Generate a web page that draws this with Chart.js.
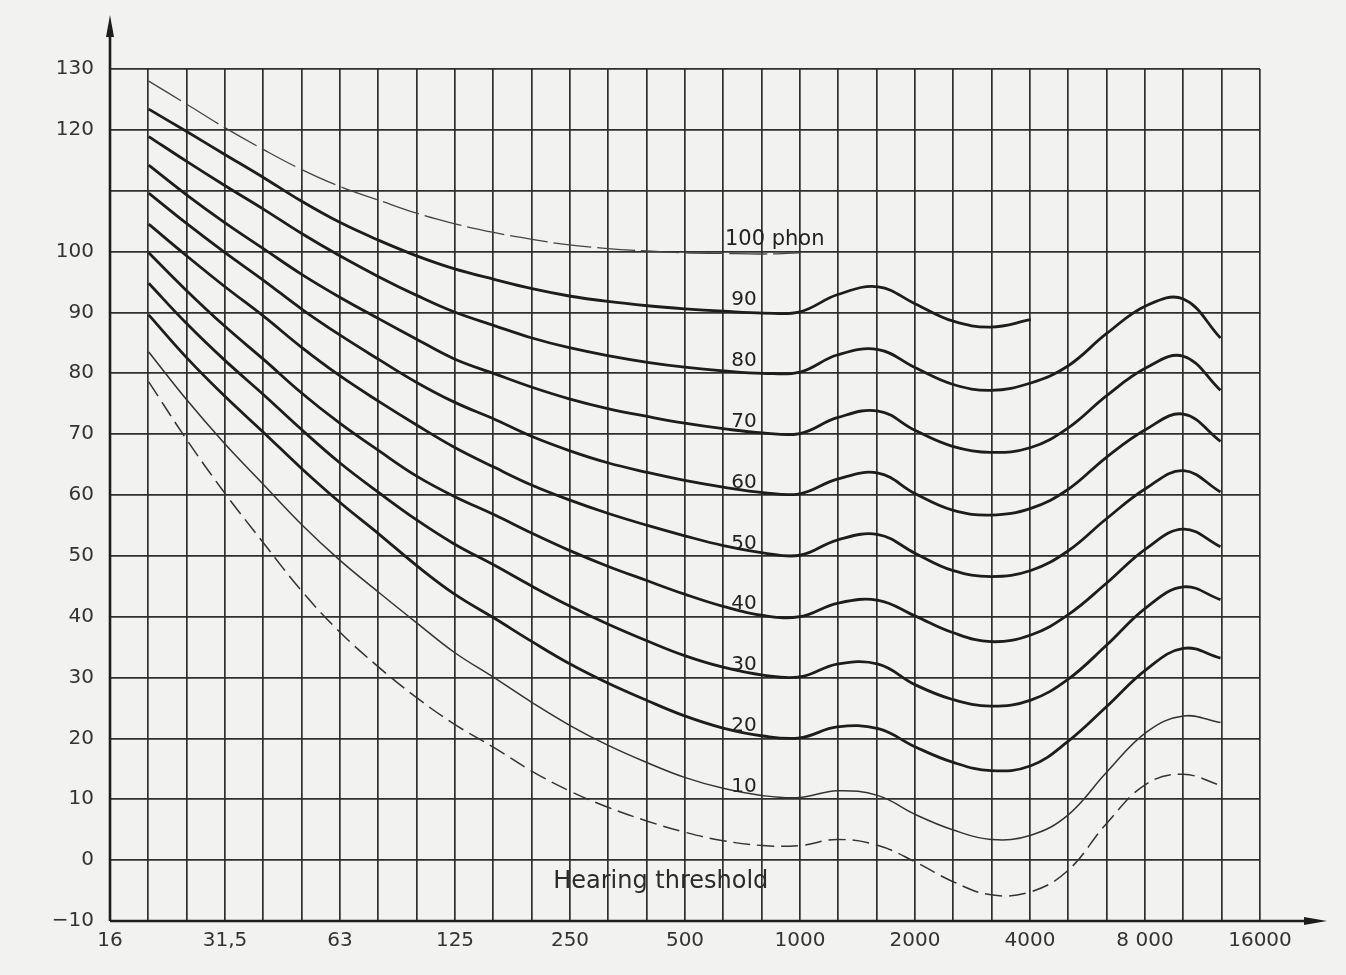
<!DOCTYPE html>
<html>
<head>
<meta charset="utf-8">
<script src="https://cdn.jsdelivr.net/npm/chart.js@4.4.1/dist/chart.umd.min.js"></script>
<style>
  html, body { margin: 0; padding: 0; background: #f2f2f0; }
  #chart { display: block; }
</style>
</head>
<body>
<canvas id="chart" width="1346" height="975"></canvas>
<script>
// third-octave centre frequencies (Hz) where the curves are read
const freqs = [20, 25, 31.5, 40, 50, 63, 80, 100, 125, 160, 200, 250, 315, 400, 500, 630, 800, 1000,
               1250, 1600, 2000, 2500, 3150, 4000, 5000, 6300, 8000, 10000, 12500]

// sound pressure level (dB) of each equal loudness contour
const phon100 = [128, 124.3, 120.4, 116.7, 113.5, 110.7, 108.4, 106.3, 104.6, 103.1, 102, 101.1, 100.5, 100.1, 99.8, 99.7, 99.6, 99.8,
                 null, null, null, null, null, null, null, null, null, null, null]
const phon90 = [123.4, 119.8, 116.0, 112.1, 108.3, 104.8, 101.8, 99.3, 97.2, 95.4, 93.9, 92.7, 91.8, 91.1, 90.6, 90.2, 89.9, 90.1,
                92.9, 94.2, 91.4, 88.6, 87.6, 88.8, null, null, null, null, null]
const phon80 = [118.9, 114.9, 110.9, 106.9, 103, 99.3, 95.8, 92.8, 90.1, 87.8, 85.8, 84.2, 82.9, 81.8, 81, 80.4, 80, 80.2,
                83, 83.9, 80.9, 78.2, 77.2, 78.4, 81.2, 86.5, 91.1, 92.2, 85.8]
const phon70 = [114.2, 109.4, 104.8, 100.4, 96.3, 92.5, 88.9, 85.6, 82.4, 79.9, 77.7, 75.8, 74.2, 72.9, 71.8, 70.9, 70.2, 70.1,
                72.7, 73.8, 70.6, 68, 67, 67.8, 71, 76.3, 80.9, 82.8, 77.2]
const phon60 = [109.6, 104.7, 99.9, 95.2, 90.6, 86.3, 82.2, 78.5, 75.3, 72.4, 69.6, 67.3, 65.3, 63.7, 62.4, 61.3, 60.4, 60.2,
                62.6, 63.6, 60.2, 57.5, 56.7, 57.8, 60.9, 66.2, 70.8, 73.3, 68.8]
const phon50 = [104.5, 99.4, 94.3, 89.3, 84.3, 79.6, 75.3, 71.5, 67.9, 64.5, 61.6, 59.2, 57, 55.0, 53.3, 51.7, 50.5, 50.1,
                52.6, 53.5, 50.4, 47.6, 46.6, 47.6, 50.8, 56.1, 61.1, 64, 60.5]
const phon40 = [99.8, 93.7, 87.8, 82.2, 76.8, 71.8, 67.2, 63.1, 59.8, 56.7, 53.7, 50.9, 48.3, 45.9, 43.7, 41.7, 40.2, 40.0,
                42.2, 42.7, 40.1, 37.4, 35.9, 37, 40.3, 45.5, 51.2, 54.4, 51.5]
const phon30 = [94.8, 88.3, 82.2, 76.4, 70.8, 65.3, 60.3, 55.9, 52.0, 48.4, 45.0, 41.8, 38.8, 36.0, 33.6, 31.7, 30.4, 30.1,
                32.2, 32.2, 28.8, 26.4, 25.3, 26.3, 29.7, 35.3, 41.5, 44.9, 42.8]
const phon20 = [89.6, 82.7, 76.3, 70.2, 64.4, 58.8, 53.5, 48.4, 43.8, 39.7, 35.9, 32.3, 29.1, 26.2, 23.7, 21.7, 20.4, 20.1,
                21.9, 21.6, 18.6, 16.1, 14.7, 15.5, 19.5, 25.2, 31.3, 34.8, 33.2]
const phon10 = [83.5, 75.8, 68.5, 61.6, 55.2, 49.3, 43.9, 39.0, 34.2, 29.9, 25.9, 22.2, 18.9, 16.0, 13.6, 11.8, 10.6, 10.3,
                11.4, 10.6, 7.5, 5, 3.4, 4.1, 7.4, 14.4, 21, 23.7, 22.6]
const threshold = [78.6, 69.3, 60.4, 52.0, 44.3, 37.5, 31.6, 26.7, 22.4, 18.4, 14.6, 11.4, 8.7, 6.4, 4.6, 3.2, 2.4, 2.4,
                   3.4, 2.4, -0.3, -3.5, -5.7, -5.2, -1.7, 6, 12.5, 14.1, 12.3]

// axis ticks
const xTickLabels = ["16", "31,5", "63", "125", "250", "500", "1000", "2000", "4000", "8 000", "16000"]
const yTicks = [-10, 0, 10, 20, 30, 40, 50, 60, 70, 80, 90, 100, 110, 120, 130]
const yTickLabels = ["\u221210", "0", "10", "20", "30", "40", "50", "60", "70", "80", "90", "100", "", "120", "130"]

// curve names written on the chart
const curveLabels = ["90", "80", "70", "60", "50", "40", "30", "20", "10"]

const ink = "#1d1d1d"
const gridInk = "#2f2f2f"
const font = "DejaVu Sans"

// grid lines every third octave, 16 Hz .. 16 kHz
const thirdOctaves = []
for (let n = -18; n <= 12; n++) thirdOctaves.push(1000 * Math.pow(10, n / 10))

function line(label, values, width, dash, color){
    return {
        label: label,
        data: freqs.map((f, i) => ({x: f, y: values[i]})),
        borderColor: color || ink,
        borderWidth: width,
        borderDash: dash || [],
        pointRadius: 0,
        tension: 0.4,
        fill: false
    }
}

const datasets = [
    line("100 phon", phon100, 1.3, [38, 6], "#444"),
    line("90", phon90, 2.8),
    line("80", phon80, 2.8),
    line("70", phon70, 2.8),
    line("60", phon60, 2.8),
    line("50", phon50, 2.8),
    line("40", phon40, 2.8),
    line("30", phon30, 2.8),
    line("20", phon20, 2.8),
    line("10", phon10, 1.5, [], "#333"),
    line("Hearing threshold", threshold, 1.5, [17, 7], "#333")
]

const paper = {
    id: "paper",
    beforeDraw(chart){
        const c = chart.ctx
        c.save()
        c.fillStyle = "#f2f2f0"
        c.fillRect(0, 0, chart.width, chart.height)
        c.restore()
    },
    afterDraw(chart){
        const c = chart.ctx
        const a = chart.chartArea
        const x = chart.scales.x
        const y = chart.scales.y
        c.save()
        // axes with arrows
        c.strokeStyle = ink
        c.fillStyle = ink
        c.lineWidth = 2.6
        c.beginPath()
        c.moveTo(a.left, a.bottom)
        c.lineTo(a.left, a.top - 40)
        c.moveTo(a.left, a.bottom)
        c.lineTo(a.right + 50, a.bottom)
        c.stroke()
        c.beginPath()
        c.moveTo(a.left, a.top - 54)
        c.lineTo(a.left - 4, a.top - 32)
        c.lineTo(a.left + 4, a.top - 32)
        c.closePath()
        c.fill()
        c.beginPath()
        c.moveTo(a.right + 67, a.bottom)
        c.lineTo(a.right + 44, a.bottom - 4)
        c.lineTo(a.right + 44, a.bottom + 4)
        c.closePath()
        c.fill()

        // curve names
        c.fillStyle = "#222"
        c.textBaseline = "alphabetic"
        c.textAlign = "center"
        c.font = "20px '" + font + "'"
        curveLabels.forEach(t => {
            const level = Number(t)
            c.fillText(t, x.getPixelForValue(714), y.getPixelForValue(level + 1.2))
        })
        c.textAlign = "left"
        c.font = "21px '" + font + "'"
        c.fillText("100 phon", x.getPixelForValue(637), y.getPixelForValue(101.1))
        c.fillStyle = "#2a2a2a"
        c.font = "24px '" + font + "'"
        c.fillText("Hearing threshold", x.getPixelForValue(227), y.getPixelForValue(-4.6))
        c.restore()
    }
}

new Chart(document.getElementById("chart"), {
    type: "line",
    data: {datasets: datasets},
    plugins: [paper],
    options: {
        responsive: false,
        animation: false,
        devicePixelRatio: 1,
        layout: {padding: {top: 69, right: 86, bottom: 0, left: 0}},
        plugins: {legend: {display: false}, tooltip: {enabled: false}},
        scales: {
            x: {
                type: "logarithmic",
                min: thirdOctaves[0],
                max: thirdOctaves[thirdOctaves.length - 1],
                afterBuildTicks: s => { s.ticks = thirdOctaves.map(v => ({value: v})) },
                afterFit: s => { s.height = 54 },
                ticks: {
                    autoSkip: false,
                    maxRotation: 0,
                    padding: 8,
                    color: "#333",
                    font: {family: font, size: 20},
                    callback: (v, i) => i % 3 === 0 ? xTickLabels[i / 3] : ""
                },
                grid: {color: gridInk, lineWidth: 1.7, drawTicks: false},
                border: {display: false}
            },
            y: {
                min: -10,
                max: 130,
                afterBuildTicks: s => { s.ticks = yTicks.map(v => ({value: v})) },
                afterFit: s => { s.width = 110 },
                ticks: {
                    padding: 16,
                    color: "#333",
                    font: {family: font, size: 20},
                    callback: (v, i) => yTickLabels[i]
                },
                grid: {color: gridInk, lineWidth: 1.7, drawTicks: false},
                border: {display: false}
            }
        }
    }
})
</script>
</body>
</html>
